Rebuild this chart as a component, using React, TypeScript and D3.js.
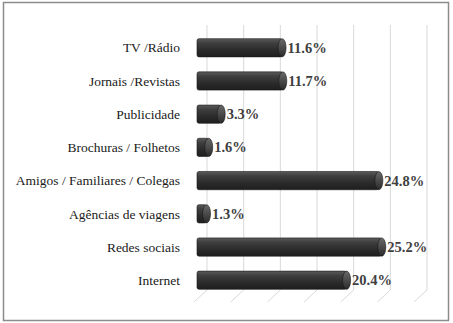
import * as d3 from "d3";

const categories = [
  "TV /Rádio",
  "Jornais /Revistas",
  "Publicidade",
  "Brochuras / Folhetos",
  "Amigos / Familiares / Colegas",
  "Agências de viagens",
  "Redes sociais",
  "Internet",
];
const values = [11.6, 11.7, 3.3, 1.6, 24.8, 1.3, 25.2, 20.4];
const ticks = [0, 5, 10, 15, 20, 25, 30];

const W = 453;
const H = 323;
const FONT = "Liberation Serif";

export default function App() {
  const x = d3.scaleLinear().domain([0, 30]).range([197, 417]);
  const y = d3.scaleBand().domain(categories).range([32, 296]).paddingInner(0.45).paddingOuter(0.2);
  const depthX = 13; // 3d offset of the back wall
  const depthY = 12;
  const gridTop = 25;
  const gridBottom = 290;
  const bh = y.bandwidth();
  const capW = 4;

  return (
    <svg width={W} height={H} style={{ position: "absolute", left: 0, top: 0 }}>
      <defs>
        <linearGradient id="cyl" x1="0" y1="0" x2="0" y2="1">
          <stop offset="0" stopColor="#5a5a5a" />
          <stop offset="0.25" stopColor="#3e3e3e" />
          <stop offset="0.6" stopColor="#2c2c2c" />
          <stop offset="1" stopColor="#1e1e1e" />
        </linearGradient>
        <linearGradient id="cap" x1="0" y1="0" x2="0" y2="1">
          <stop offset="0" stopColor="#6a6a6a" />
          <stop offset="1" stopColor="#2a2a2a" />
        </linearGradient>
      </defs>
      <rect x={3.5} y={2.5} width={445} height={318} fill="#fff" stroke="#8c8c8c" strokeWidth={1.5} />
      {ticks.map((t) => (
        <g key={t} stroke="#d9d9d9" strokeWidth={1} fill="none">
          <line x1={x(t) + 10} x2={x(t) + 10} y1={gridTop} y2={gridBottom} />
          <line x1={x(t) + 10} x2={x(t) + 10 - depthX} y1={gridBottom} y2={gridBottom + depthY} />
        </g>
      ))}
      {categories.map((c, i) => {
        const yc = (y(c) as number) + bh / 2;
        const x0 = x(0);
        const x1 = x(values[i]);
        return (
          <g key={c}>
            <text x={180} y={yc} dy="0.35em" textAnchor="end" fontFamily={FONT} fontSize={13.5} fill="#1a1a1a">
              {c}
            </text>
            <rect x={x0} y={yc - bh / 2} width={x1 - x0} height={bh} rx={2} fill="url(#cyl)" stroke="#1a1a1a" strokeWidth={0.6} />
            <ellipse cx={x1} cy={yc} rx={capW} ry={bh / 2} fill="url(#cap)" stroke="#1a1a1a" strokeWidth={0.6} />
            <text
              x={x1 + capW + 1.5}
              y={yc}
              dy="0.35em"
              fontFamily={FONT}
              fontWeight="bold"
              fontSize={14.5}
              fill="#404040"
            >
              {values[i].toFixed(1) + "%"}
            </text>
          </g>
        );
      })}
    </svg>
  );
}
